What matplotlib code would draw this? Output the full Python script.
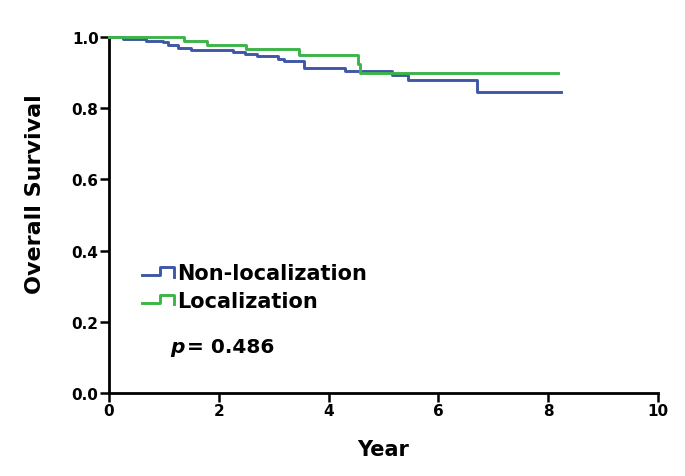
import matplotlib
matplotlib.use("Agg")
import matplotlib.pyplot as plt
from matplotlib.lines import Line2D
from matplotlib.legend_handler import HandlerBase

plt.rcParams['font.family'] = ['DejaVu Sans']
plt.rcParams['font.weight'] = 'bold'

# Kaplan-Meier steps
non_loc_years = [0, 0.25, 0.67, 0.98, 1.08, 1.25, 1.5, 2.25, 2.48, 2.69, 3.08, 3.19, 3.56, 4.29, 5.15, 5.44, 6.71, 8.23]
non_loc_surv = [1.0, 0.995, 0.99, 0.985, 0.978, 0.97, 0.963, 0.957, 0.952, 0.946, 0.938, 0.932, 0.913, 0.904, 0.893, 0.881, 0.847, 0.847]
loc_years = [0, 1.37, 1.78, 2.49, 3.46, 4.53, 4.57, 8.18]
loc_surv = [1.0, 0.99, 0.979, 0.966, 0.951, 0.925, 0.90, 0.90]

labels = ["Non-localization", "Localization"]
p_value = "0.486"
xticks = [0, 2, 4, 6, 8, 10]
yticks = [0.0, 0.2, 0.4, 0.6, 0.8, 1.0]

blue = "#3f57a6"
green = "#3cb44a"


class StepHandler(HandlerBase):
    # little step glyph like in the SPSS legend
    def create_artists(self, legend, orig, xd, yd, w, h, fontsize, trans):
        xs = [0, 0.55 * w, 0.55 * w, w, w]
        ys = [0.3 * h, 0.3 * h, 0.85 * h, 0.85 * h, 0.2 * h]
        xs = [x - xd for x in xs]
        ys = [y - yd for y in ys]
        ln = Line2D(xs, ys, color=orig.get_color(), lw=orig.get_linewidth(), transform=trans)
        return [ln]


fig = plt.figure(figsize=(6.85, 4.77), dpi=100)
ax = fig.add_axes([0.1591, 0.174, 0.8015, 0.746])

l1, = ax.step(non_loc_years, non_loc_surv, where='post', color=blue, lw=2.1, clip_on=False, zorder=3)
l2, = ax.step(loc_years, loc_surv, where='post', color=green, lw=2.1, clip_on=False, zorder=4)

ax.set_xlim(0, 10)
ax.set_ylim(0, 1)
ax.set_xticks(xticks)
ax.set_yticks(yticks)
ax.set_xticklabels([str(t) for t in xticks], fontsize=11, fontweight='bold')
ax.set_yticklabels(["%.1f" % t for t in yticks], fontsize=11, fontweight='bold')
ax.tick_params(direction='out', length=6.5, width=1.8, pad=1)
for s in ['top', 'right']:
    ax.spines[s].set_visible(False)
for s in ['left', 'bottom']:
    ax.spines[s].set_linewidth(2)

ax.set_xlabel("Year", fontsize=15, fontweight='bold', labelpad=15)
ax.set_ylabel("Overall Survival", fontsize=16, fontweight='bold')
ax.yaxis.set_label_coords(-0.117, 0.562)

ax.legend([l1, l2], labels, handler_map={l1: StepHandler(), l2: StepHandler()},
          loc='upper left', bbox_to_anchor=(0.06, 0.364), frameon=False,
          prop={'size': 15, 'weight': 'bold'}, handlelength=1.55, handletextpad=0.15,
          labelspacing=0.38, borderpad=0, borderaxespad=0)

ax.text(0.111, 0.132, "p", transform=ax.transAxes,
        fontsize=14.5, fontweight='bold', fontstyle='italic', va='center')
ax.text(0.142, 0.132, "= " + p_value, transform=ax.transAxes,
        fontsize=14.5, fontweight='bold', va='center')

fig.savefig("out.png", dpi=100)
